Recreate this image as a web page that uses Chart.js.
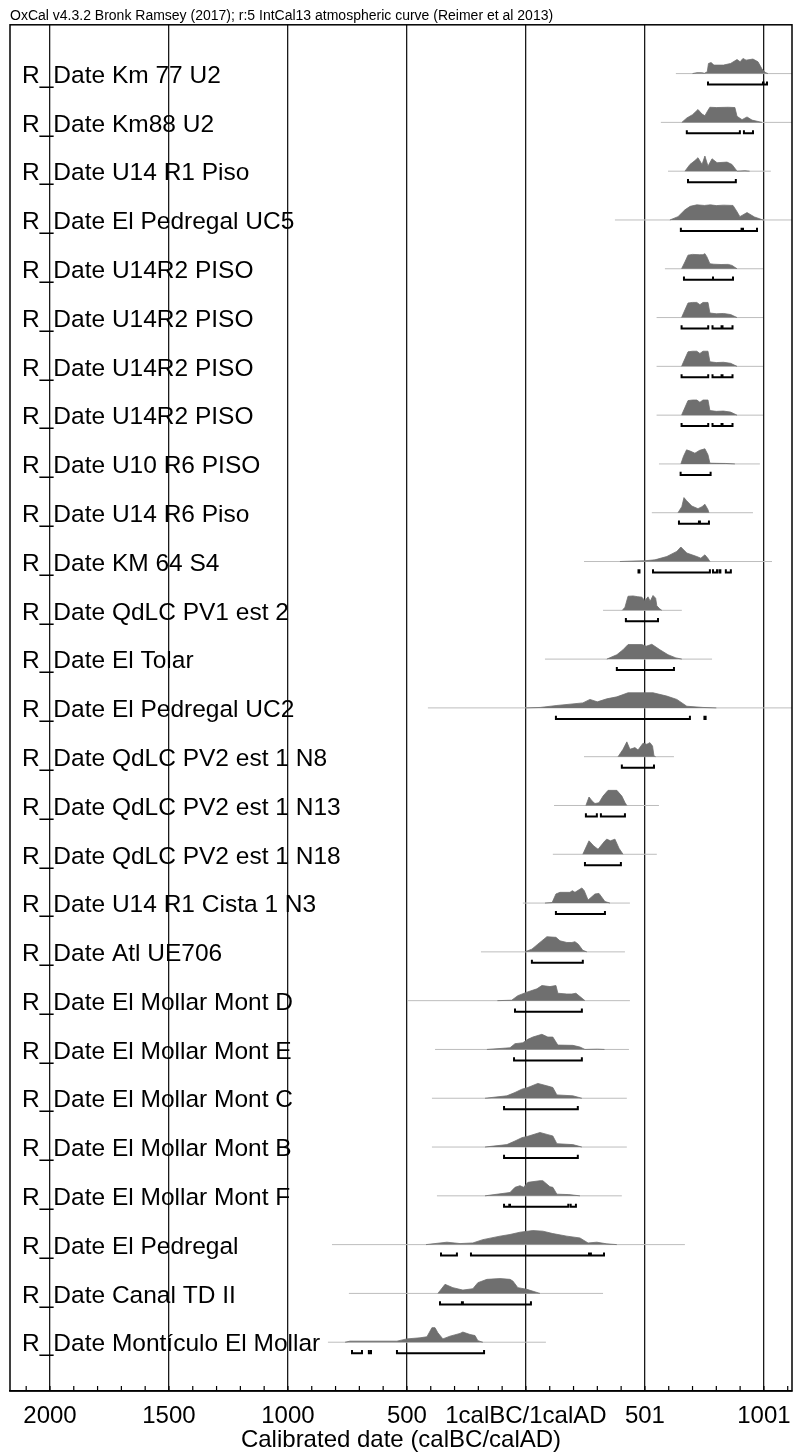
<!DOCTYPE html>
<html>
<head>
<meta charset="utf-8">
<title>OxCal multiplot</title>
<script src="https://cdn.jsdelivr.net/npm/chart.js@4.4.1/dist/chart.umd.min.js"></script>
<style>
  html, body { margin: 0; padding: 0; background: #fff; }
  #wrap { width: 793px; height: 1453px; }
</style>
</head>
<body>
<div id="wrap"><canvas id="oxcal"></canvas></div>
<script>
// row labels, top to bottom
const rowLabels = [
  'R_Date Km 77 U2', 'R_Date Km88 U2', 'R_Date U14 R1 Piso', 'R_Date El Pedregal UC5',
  'R_Date U14R2 PISO', 'R_Date U14R2 PISO', 'R_Date U14R2 PISO', 'R_Date U14R2 PISO',
  'R_Date U10 R6 PISO', 'R_Date U14 R6 Piso', 'R_Date KM 64 S4', 'R_Date QdLC PV1 est 2',
  'R_Date El Tolar', 'R_Date El Pedregal UC2', 'R_Date QdLC PV2 est 1 N8', 'R_Date QdLC PV2 est 1 N13',
  'R_Date QdLC PV2 est 1 N18', 'R_Date U14 R1 Cista 1 N3', 'R_Date Atl UE706', 'R_Date El Mollar Mont D',
  'R_Date El Mollar Mont E', 'R_Date El Mollar Mont C', 'R_Date El Mollar Mont B', 'R_Date El Mollar Mont F',
  'R_Date El Pedregal', 'R_Date Canal TD II', 'R_Date Montículo El Mollar'
];

// calendar years (BC negative), thin baseline of each likelihood
const lineFrom = [630, 567, 597, 374, 584, 549, 549, 549, 559, 529, 244, 324, 80, -412, 244, 118, 113, -13, -189, -496, -382, -395, -395, -374, -815, -744, -832];
const lineTo = [1125, 1125, 1029, 1125, 996, 996, 996, 996, 983, 954, 1034, 655, 782, 1125, 622, 559, 550, 437, 416, 437, 433, 424, 424, 403, 668, 324, 84];

// calibrated probability (relative, peak ~100)
const distYears = [
  [700, 718, 739, 750, 762, 767, 778, 790, 830, 860, 887, 900, 912, 925, 954, 975, 992, 1005, 1017],
  [655, 676, 700, 723, 740, 752, 765, 773, 800, 850, 878, 887, 908, 929, 950, 992],
  [668, 689, 710, 723, 740, 752, 765, 782, 803, 845, 866, 880, 887, 920, 940],
  [605, 639, 668, 690, 718, 750, 775, 800, 830, 870, 885, 899, 929, 960, 996],
  [654, 668, 681, 700, 730, 744, 752, 760, 773, 790, 820, 850, 866, 887],
  [654, 668, 681, 700, 718, 731, 744, 765, 773, 800, 830, 860, 887],
  [654, 668, 681, 700, 718, 731, 744, 765, 773, 800, 830, 860, 887],
  [654, 668, 681, 700, 718, 731, 744, 765, 773, 800, 830, 860, 887],
  [651, 662, 675, 690, 710, 730, 752, 765, 773, 800, 840, 878],
  [639, 655, 664, 675, 697, 723, 740, 752, 765, 769],
  [395, 450, 500, 542, 592, 634, 651, 676, 718, 735, 752, 765, 773],
  [405, 416, 429, 450, 470, 487, 500, 513, 522, 534, 545, 550, 562, 571],
  [340, 382, 408, 429, 487, 505, 529, 563, 597, 630, 655],
  [0, 60, 130, 239, 269, 300, 340, 382, 429, 534, 592, 634, 676, 744, 800],
  [387, 408, 424, 437, 458, 471, 492, 508, 521, 532, 538, 545],
  [252, 265, 278, 290, 307, 324, 345, 382, 403, 416, 424],
  [239, 265, 285, 303, 332, 340, 355, 374, 391, 408],
  [80, 110, 126, 143, 185, 195, 206, 235, 245, 261, 290, 307, 332, 353],
  [-4, 25, 50, 88, 126, 143, 172, 193, 206, 220, 239, 256],
  [-120, -60, -34, 4, 46, 67, 101, 126, 134, 172, 193, 210, 227, 248],
  [-164, -67, -46, -13, 8, 29, 67, 92, 113, 134, 197, 227, 248, 300, 330],
  [-172, -80, -46, -17, 8, 50, 88, 113, 130, 197, 235],
  [-172, -80, -46, -17, 8, 59, 92, 113, 130, 197, 235],
  [-172, -67, -46, -25, -10, 8, 59, 71, 101, 113, 130, 180, 227],
  [-420, -332, -277, -223, -181, -109, -67, -25, 29, 71, 113, 172, 227, 261, 298, 340, 382],
  [-370, -340, -307, -265, -223, -202, -164, -109, -67, -55, -34, 4, 59],
  [-760, -739, -542, -500, -445, -416, -395, -382, -370, -349, -319, -277, -265, -235, -214, -202, -181]
];
const distProb = [
  [0, 6, 6, 2, 12, 67, 73, 56, 56, 67, 93, 78, 100, 89, 96, 78, 30, 8, 0],
  [0, 29, 51, 85, 55, 44, 80, 100, 98, 100, 98, 40, 18, 36, 15, 0],
  [0, 44, 70, 89, 44, 100, 33, 82, 56, 60, 44, 15, 0, 3, 0],
  [0, 22, 67, 90, 100, 96, 100, 95, 98, 96, 60, 22, 49, 20, 0],
  [0, 45, 90, 95, 93, 93, 100, 80, 33, 30, 28, 29, 22, 0],
  [0, 50, 96, 100, 100, 85, 100, 100, 30, 25, 27, 20, 0],
  [0, 50, 96, 100, 100, 85, 100, 100, 30, 25, 27, 20, 0],
  [0, 50, 96, 100, 100, 85, 100, 100, 30, 25, 27, 20, 0],
  [0, 50, 93, 85, 71, 90, 100, 60, 5, 4, 3, 0],
  [0, 40, 100, 80, 44, 27, 40, 56, 20, 0],
  [0, 3, 5, 11, 33, 67, 96, 56, 33, 22, 44, 20, 0],
  [0, 20, 93, 95, 90, 87, 64, 89, 60, 98, 80, 30, 10, 0],
  [0, 29, 62, 96, 96, 85, 98, 62, 29, 8, 0],
  [0, 3, 16, 33, 56, 40, 60, 73, 100, 100, 78, 56, 11, 3, 0],
  [0, 49, 98, 49, 60, 44, 89, 82, 93, 70, 5, 0],
  [0, 56, 30, 13, 18, 62, 100, 100, 62, 20, 0],
  [0, 89, 55, 33, 89, 100, 89, 100, 40, 0],
  [0, 3, 60, 71, 71, 82, 71, 100, 82, 20, 60, 64, 10, 0],
  [0, 18, 51, 100, 96, 73, 62, 62, 67, 51, 10, 0],
  [0, 3, 33, 56, 78, 100, 93, 100, 49, 44, 44, 49, 27, 0],
  [0, 11, 38, 44, 67, 82, 100, 82, 82, 29, 27, 16, 0, 2, 0],
  [0, 16, 38, 60, 71, 98, 82, 71, 22, 16, 0],
  [0, 16, 40, 62, 71, 96, 82, 73, 22, 16, 0],
  [0, 22, 56, 67, 56, 89, 100, 100, 60, 56, 11, 8, 0],
  [0, 16, 7, 11, 33, 56, 67, 82, 93, 89, 73, 56, 44, 11, 16, 5, 0],
  [0, 60, 38, 22, 31, 71, 93, 98, 93, 82, 38, 27, 0],
  [0, 7, 7, 22, 29, 36, 96, 96, 62, 22, 40, 58, 67, 51, 44, 10, 0]
];

// 95.4% ranges [from, to]
const hpdRanges = [
  [[765, 996], [998, 1013]],
  [[676, 899], [916, 954]],
  [[681, 882]],
  [[651, 906], [906, 912], [912, 971]],
  [[664, 786], [786, 870]],
  [[654, 766], [784, 822], [826, 868]],
  [[654, 766], [784, 822], [826, 868]],
  [[654, 766], [784, 822], [826, 868]],
  [[650, 776]],
  [[643, 727], [731, 769]],
  [[473, 477], [534, 773], [786, 803], [813, 817], [840, 861]],
  [[420, 555]],
  [[382, 622]],
  [[126, 689], [750, 755]],
  [[403, 538]],
  [[252, 298], [315, 416]],
  [[248, 399]],
  [[126, 332]],
  [[25, 239]],
  [[-46, 235]],
  [[-50, 235]],
  [[-92, 218]],
  [[-92, 218]],
  [[-92, -70], [-67, 178], [188, 210]],
  [[-357, -290], [-231, 265], [273, 328]],
  [[-361, -269], [-265, 21]],
  [[-731, -689], [-660, -651], [-542, -176]]
];

const axisTicks = [-2000, -1500, -1000, -500, 0, 500, 1000];
const axisTickLabels = ['2000', '1500', '1000', '500', '1calBC/1calAD', '501', '1001'];

const PEAK = 0.31;      // fraction of a row for the highest density
const BRACKET = 0.225;  // range bar offset under the baseline
const HOOK = 0.065;     // little end ticks of the range bar
const GREY = '#6f6f6f';

Chart.defaults.font.family = '"Liberation Sans", Arial, Helvetica, sans-serif';
Chart.defaults.color = '#000';

const datasets = [];
rowLabels.forEach((lbl, i) => {
  const row = i + 1;

  // range bars
  const bars = [];
  hpdRanges[i].forEach(([a, b]) => {
    bars.push({ x: a, y: row + BRACKET - HOOK }, { x: a, y: row + BRACKET },
              { x: b, y: row + BRACKET }, { x: b, y: row + BRACKET - HOOK }, { x: b, y: null });
  });
  datasets.push({ data: bars, borderColor: '#000', borderWidth: 2, pointRadius: 0, fill: false, spanGaps: false });

  datasets.push({
    data: distYears[i].map((yr, k) => ({ x: yr, y: row - distProb[i][k] / 100 * PEAK })),
    borderColor: GREY, backgroundColor: GREY, borderWidth: 0.8,
    pointRadius: 0, fill: { value: row }
  });

  datasets.push({
    data: [{ x: lineFrom[i], y: row }, { x: lineTo[i], y: row }],
    borderColor: '#bdbdbd', borderWidth: 1, pointRadius: 0, fill: false
  });
});

// frame + short 100-year ticks inside the plot
const framePlugin = {
  id: 'frame',
  afterDraw(chart) {
    const { ctx, chartArea: ca, scales: { x } } = chart;
    ctx.save();
    ctx.strokeStyle = '#000';
    ctx.lineWidth = 1.2;
    ctx.beginPath();
    x.ticks.forEach(t => {
      const px = x.getPixelForValue(t.value);
      ctx.moveTo(px, ca.bottom);
      ctx.lineTo(px, ca.bottom - 5);
    });
    ctx.stroke();
    ctx.lineWidth = 1.5;
    ctx.strokeRect(ca.left, ca.top, ca.right - ca.left, ca.bottom - ca.top);
    ctx.restore();
  }
};

new Chart(document.getElementById('oxcal'), {
  type: 'line',
  data: { datasets },
  options: {
    responsive: true,
    maintainAspectRatio: false,
    animation: false,
    layout: { padding: { left: 10, right: 1, top: 0, bottom: 0 } },
    elements: { line: { tension: 0 } },
    plugins: {
      legend: { display: false },
      tooltip: { enabled: false },
      title: {
        display: true,
        text: 'OxCal v4.3.2 Bronk Ramsey (2017); r:5 IntCal13 atmospheric curve (Reimer et al 2013)',
        align: 'start',
        color: '#000',
        font: { size: 14, weight: 'normal' },
        padding: { top: 8, bottom: 0 }
      }
    },
    scales: {
      x: {
        type: 'linear',
        min: -2168,
        max: 1118,
        z: 1,
        afterBuildTicks: s => {
          const t = [];
          for (let v = -2100; v <= 1100; v += 100) t.push({ value: v });
          s.ticks = t;
        },
        afterFit: s => { s.height = 62; s.paddingLeft = 0; s.paddingRight = 0; },
        ticks: {
          autoSkip: false,
          maxRotation: 0,
          padding: 11,
          font: { size: 24 },
          callback: v => {
            const k = axisTicks.indexOf(v);
            return k >= 0 ? axisTickLabels[k] : '';
          }
        },
        grid: {
          drawTicks: false,
          lineWidth: 1.3,
          color: c => (c.tick && axisTicks.includes(c.tick.value)) ? '#1a1a1a' : 'rgba(0,0,0,0)'
        },
        border: { display: true, color: '#000', width: 1.5 },
        title: {
          display: true,
          text: 'Calibrated date (calBC/calAD)',
          font: { size: 24 },
          padding: { top: -2, bottom: -2 }
        }
      },
      y: {
        type: 'linear',
        reverse: true,
        min: 0,
        max: 28,
        afterBuildTicks: s => { s.ticks = rowLabels.map((_, i) => ({ value: i + 1 })); },
        afterFit: s => { s.width = 0; s.paddingTop = 0; s.paddingBottom = 0; },
        ticks: {
          mirror: true,
          padding: 12,
          labelOffset: 2.5,
          autoSkip: false,
          font: { size: 24.5 },
          callback: v => rowLabels[v - 1]
        },
        grid: { display: false, drawTicks: false },
        border: { display: false }
      }
    }
  },
  plugins: [framePlugin]
});
</script>
</body>
</html>
